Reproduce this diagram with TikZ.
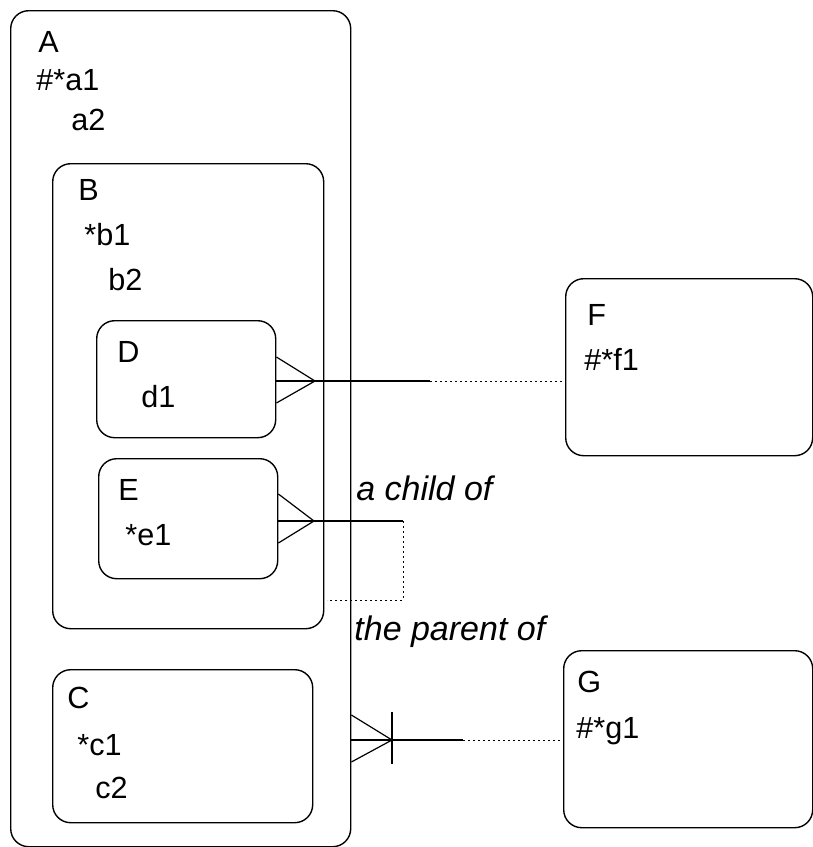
\documentclass[tikz,border=0pt]{standalone}
\usepackage{fontspec}
\setmainfont{Liberation Sans}
\usetikzlibrary{calc}
\begin{document}
\begin{tikzpicture}[x=0.5pt,y=-0.5pt,
  box/.style={draw, line width=0.7pt, rounded corners=9pt, anchor=north west, inner sep=0pt},
  lbl/.style={anchor=base west, inner sep=0pt, font=\fontsize{15.3}{18}\selectfont},
  rlbl/.style={anchor=base west, inner sep=0pt, font=\fontsize{17}{20}\selectfont\itshape},
  solidln/.style={line width=0.6pt},
  dotln/.style={line width=0.5pt, dash pattern=on 1.2pt off 1.3pt}]
\useasboundingbox (0,0) rectangle (813,847);
% boxes
\node[box, minimum width=170pt, minimum height=418pt] (A) at (10,10) {};
\node[box, minimum width=135.5pt, minimum height=232.5pt] (B) at (52,163) {};
\node[box, minimum width=89.5pt, minimum height=58.5pt] (D) at (96,320) {};
\node[box, minimum width=89.5pt, minimum height=60pt] (E) at (98,458) {};
\node[box, minimum width=130pt, minimum height=76.5pt] (C) at (52,669) {};
\node[box, minimum width=123.5pt, minimum height=88.5pt] (F) at (565,278) {};
\node[box, minimum width=124.5pt, minimum height=88.5pt] (G) at (563,650) {};
% texts
\node[lbl] (tA) at (38,52) {A};
\node[lbl] (ta1) at (36,90) {\#*a1};
\node[lbl] (ta2) at (71,130) {a2};
\node[lbl] (tB) at (78,200) {B};
\node[lbl] (tb1) at (84,245) {*b1};
\node[lbl] (tb2) at (108,290) {b2};
\node[lbl] (tD) at (117,362) {D};
\node[lbl] (td1) at (141,407) {d1};
\node[lbl] (tE) at (118,500) {E};
\node[lbl] (te1) at (125,545) {*e1};
\node[lbl] (tC) at (67,708) {C};
\node[lbl] (tc1) at (77,755) {*c1};
\node[lbl] (tc2) at (95,798) {c2};
\node[lbl] (tF) at (587,325) {F};
\node[lbl] (tf1) at (584,370) {\#*f1};
\node[lbl] (tG) at (577,692) {G};
\node[lbl] (tg1) at (576,738) {\#*g1};
\node[rlbl] (child) at (356,500) {a child of};
\node[rlbl] (parent) at (354,640) {the parent of};
% D -- F
\coordinate (d0) at (D.east |- 0,381);
\coordinate (dapex) at (315,381);
\coordinate (dmid) at (430,381);
\draw[solidln] ($(d0)+(0,-24)$) -- (dapex) -- ($(d0)+(0,22)$);
\draw[solidln] (d0) -- (dmid);
\draw[dotln] (dmid) -- (dmid -| F.west);
% E recursive
\coordinate (e0) at (E.east |- 0,521);
\coordinate (eapex) at (314,521);
\coordinate (ecorner) at (403,521);
\coordinate (ebot) at (403,600);
\coordinate (eend) at (327,600);
\draw[solidln] ($(e0)+(0,-27)$) -- (eapex) -- ($(e0)+(0,22)$);
\draw[solidln] (e0) -- (ecorner);
\draw[dotln] (ecorner) -- (ebot) -- (eend);
% A(C) -- G
\coordinate (c0) at (A.east |- 0,740);
\coordinate (capex) at (392,740);
\coordinate (cmid) at (463,740);
\draw[solidln] ($(c0)+(0,-25)$) -- (capex) -- ($(c0)+(0,22)$);
\draw[solidln] (392,712) -- (392,764);
\draw[solidln] (c0) -- (cmid);
\draw[dotln] (cmid) -- (cmid -| G.west);
\end{tikzpicture}
\end{document}
